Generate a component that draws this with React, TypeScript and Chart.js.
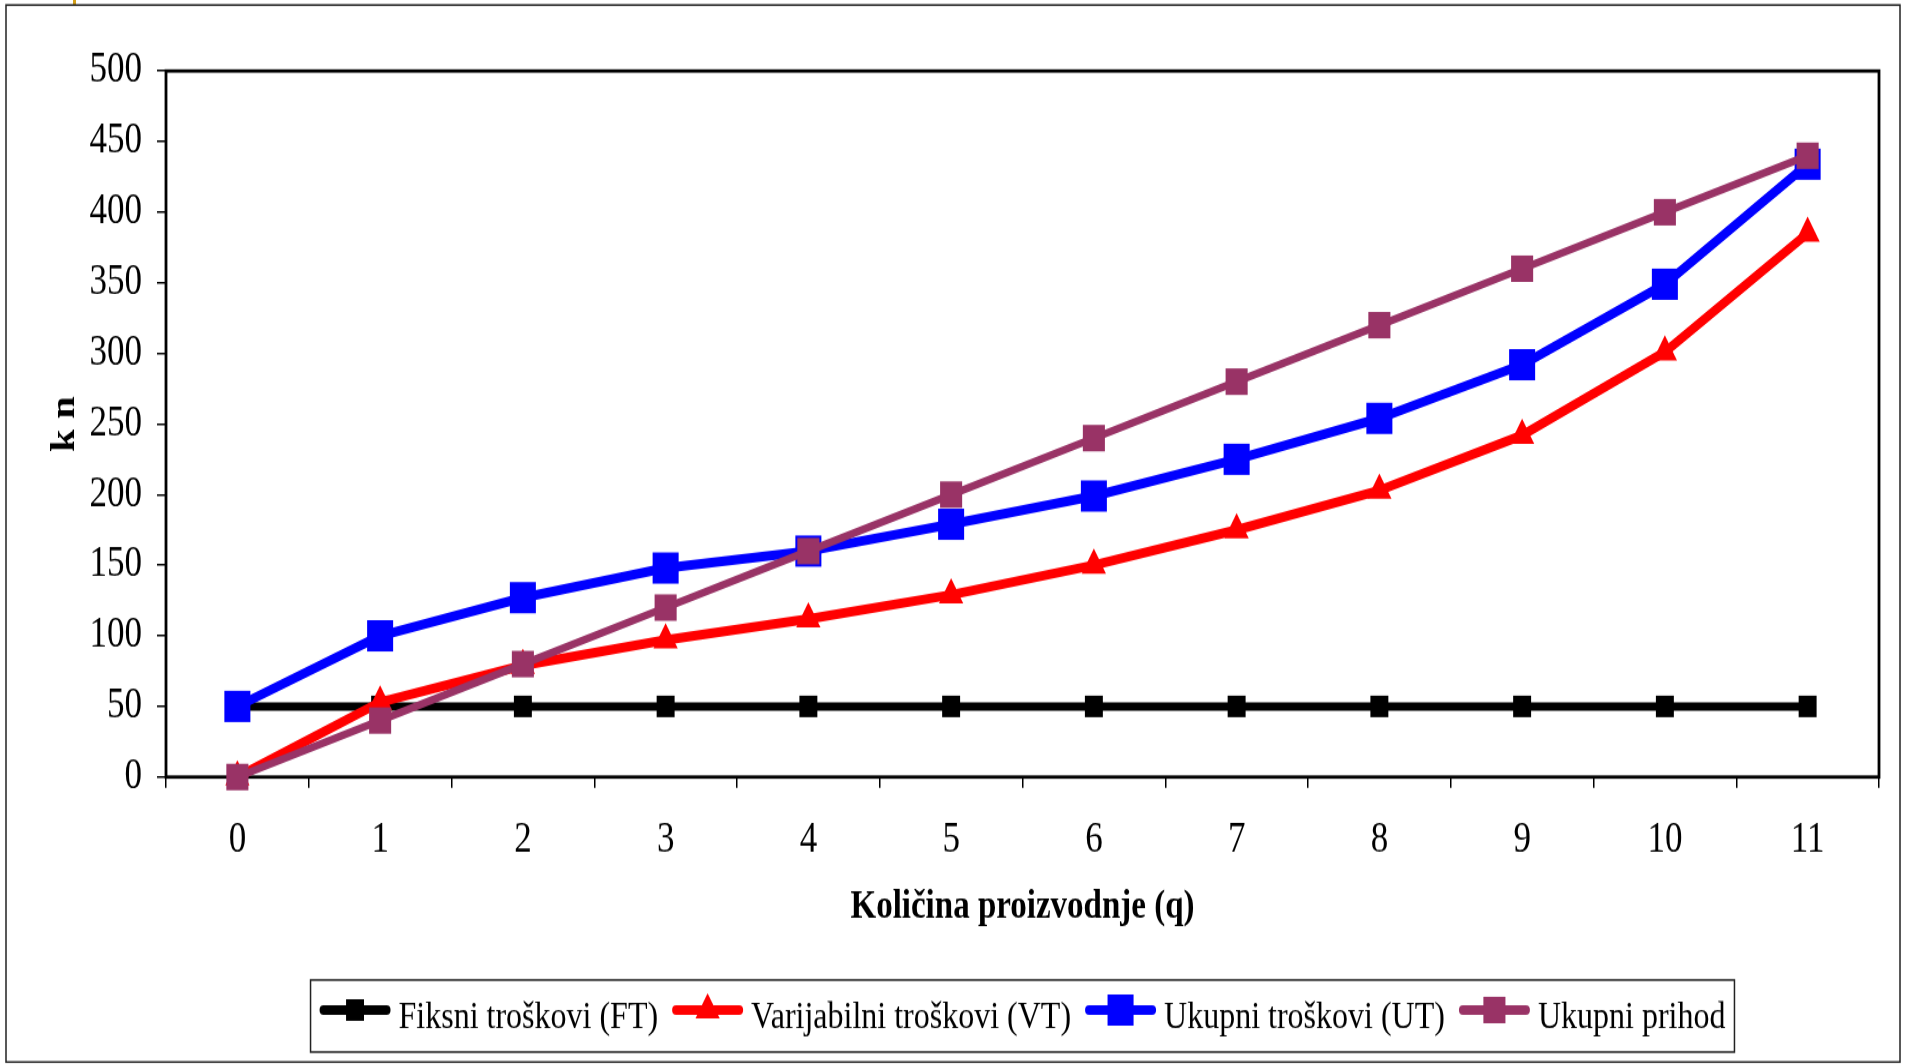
import React, { useEffect, useRef } from "react";
import { Chart, registerables } from "chart.js";

Chart.register(...registerables);

// ---------- data ----------
const quantities = ["0", "1", "2", "3", "4", "5", "6", "7", "8", "9", "10", "11"];
const fixedCosts = [50, 50, 50, 50, 50, 50, 50, 50, 50, 50, 50, 50];
const variableCosts = [0, 53, 79, 97, 112, 129, 150, 175, 203, 242, 301, 385];
const totalCosts = [50, 100, 127, 148, 160, 179, 199, 225, 254, 292, 349, 434];
const totalRevenue = [0, 40, 80, 120, 160, 200, 240, 280, 320, 360, 400, 440];
const seriesLabels = [
  "Fiksni troškovi (FT)",
  "Varijabilni troškovi (VT)",
  "Ukupni troškovi (UT)",
  "Ukupni prihod",
];
const yMin = 0;
const yMax = 500;
const yStep = 50;
const xTitle = "Količina proizvodnje (q)";
const yTitle = "k n";

// ---------- layout ----------
const W = 1910;
const H_OUT = 1064;
const H = 887;
const S = H_OUT / H;
const FONT = '"Liberation Serif", "Times New Roman", Times, serif';
const PLOT_LEFT = 166;
const PLOT_RIGHT = 1879;
const PLOT_TOP = 71 / S;
const PLOT_BOTTOM = 777 / S;

const frameUnderlay = {
  id: "frameUnderlay",
  beforeDraw(chart: any) {
    const ctx = chart.ctx;
    ctx.save();
    ctx.fillStyle = "#ffffff";
    ctx.fillRect(0, 0, chart.width, chart.height);
    ctx.fillStyle = "#D4A017";
    ctx.fillRect(73, 0, 3, 4);
    ctx.strokeStyle = "#222";
    ctx.lineWidth = 1.5;
    ctx.strokeRect(6, 5 / S, 1894, 1057 / S);
    ctx.restore();
  },
  beforeDatasetsDraw(chart: any) {
    const { ctx, chartArea } = chart;
    ctx.save();
    ctx.strokeStyle = "#000";
    ctx.lineWidth = 2.8;
    ctx.strokeRect(chartArea.left, chartArea.top, chartArea.right - chartArea.left, chartArea.bottom - chartArea.top);
    ctx.restore();
  },
};

function drawMarker(ctx: CanvasRenderingContext2D, style: string, r: number, x: number, y: number) {
  ctx.beginPath();
  if (style === "triangle") {
    ctx.moveTo(x, y - r);
    ctx.lineTo(x + 0.866 * r, y + 0.5 * r);
    ctx.lineTo(x - 0.866 * r, y + 0.5 * r);
    ctx.closePath();
  } else {
    const s = Math.SQRT1_2 * r;
    ctx.rect(x - s, y - s, 2 * s, 2 * s);
  }
  ctx.fill();
}

const customLegend = {
  id: "customLegend",
  afterDraw(chart: any) {
    const ctx: CanvasRenderingContext2D = chart.ctx;
    const ca = chart.chartArea;
    ctx.save();
    ctx.font = `32px ${FONT}`;
    const lineLen = 71;
    const gapLine = 8;
    const gapText = 14;
    const padX = 9;
    const items = chart.data.datasets.map((ds: any) => ({ ds, w: ctx.measureText(ds.label).width }));
    let total = padX * 2 + gapText * (items.length - 1);
    items.forEach((it: any) => (total += lineLen + gapLine + it.w));
    const cx = (ca.left + ca.right) / 2;
    const boxL = cx - total / 2;
    const boxT = 980 / S;
    const boxB = 1052 / S;
    ctx.strokeStyle = "#222";
    ctx.lineWidth = 1.5;
    ctx.strokeRect(boxL, boxT, total, boxB - boxT);
    const lineY = 1010 / S;
    const textY = 1028 / S;
    let x = boxL + padX;
    items.forEach((it: any) => {
      const ds = it.ds;
      ctx.strokeStyle = ds.borderColor;
      ctx.fillStyle = ds.borderColor;
      ctx.lineWidth = 8;
      ctx.lineCap = "round";
      ctx.beginPath();
      ctx.moveTo(x + 4, lineY);
      ctx.lineTo(x + lineLen - 4, lineY);
      ctx.stroke();
      drawMarker(ctx, ds.pointStyle, ds.pointRadius, x + lineLen / 2, lineY);
      x += lineLen + gapLine;
      ctx.fillStyle = "#000";
      ctx.textBaseline = "alphabetic";
      ctx.textAlign = "left";
      ctx.fillText(ds.label, x, textY);
      x += it.w + gapText;
    });
    ctx.restore();
  },
};

export default function App() {
  const ref = useRef<HTMLCanvasElement | null>(null);
  useEffect(() => {
    if (!ref.current) return;
    const mk = (label: string, data: number[], color: string, style: string, r: number, bw: number, order: number) => ({
      label,
      data,
      borderColor: color,
      backgroundColor: color,
      pointBackgroundColor: color,
      pointBorderWidth: 0,
      pointStyle: style,
      pointRadius: r,
      pointHoverRadius: r,
      borderWidth: bw,
      borderJoinStyle: "round",
      borderCapStyle: "round",
      tension: 0,
      clip: false,
      order,
    });
    const chart = new Chart(ref.current, {
      type: "line",
      data: {
        labels: quantities,
        datasets: [
          mk(seriesLabels[0], fixedCosts, "#000000", "rect", 12.7, 7, 4),
          mk(seriesLabels[1], variableCosts, "#FF0000", "triangle", 14, 8, 3),
          mk(seriesLabels[2], totalCosts, "#0000FF", "rect", 18.4, 8, 2),
          mk(seriesLabels[3], totalRevenue, "#993366", "rect", 15.6, 6.5, 1),
        ] as any,
      },
      options: {
        animation: false,
        responsive: true,
        maintainAspectRatio: false,
        events: [],
        layout: { padding: { left: 0, right: W - PLOT_RIGHT, top: PLOT_TOP, bottom: 0 } },
        plugins: { legend: { display: false }, tooltip: { enabled: false } },
        scales: {
          x: {
            type: "category",
            offset: true,
            grid: {
              display: true,
              drawOnChartArea: false,
              drawTicks: true,
              tickLength: 9,
              offset: true,
              color: "#000",
              tickColor: "#000",
              lineWidth: 1.5,
              tickWidth: 1.5,
            },
            border: { display: false },
            ticks: {
              color: "#000",
              font: { family: FONT, size: 35 },
              padding: 23,
              maxRotation: 0,
              autoSkip: false,
            },
            title: {
              display: true,
              text: xTitle,
              color: "#000",
              font: { family: FONT, size: 33, weight: "bold" },
              padding: { top: 0, bottom: 111 },
            },
            afterFit: (s: any) => {
              s.height = H - PLOT_BOTTOM;
            },
          },
          y: {
            min: yMin,
            max: yMax,
            grid: {
              display: true,
              drawOnChartArea: false,
              drawTicks: true,
              tickLength: 9,
              color: "#000",
              tickColor: "#000",
              lineWidth: 1.5,
              tickWidth: 1.5,
            },
            border: { display: false },
            ticks: {
              stepSize: yStep,
              color: "#000",
              font: { family: FONT, size: 35 },
              padding: 15,
            },
            title: {
              display: true,
              text: yTitle,
              color: "#000",
              font: { family: FONT, size: 34, weight: "bold" },
              padding: { top: 45, bottom: 0 },
            },
            afterFit: (s: any) => {
              s.width = PLOT_LEFT;
            },
          },
        },
      } as any,
      plugins: [frameUnderlay, customLegend],
    });
    return () => chart.destroy();
  }, []);

  return (
    <div style={{ position: "fixed", left: 0, top: 0, width: W, height: H_OUT, overflow: "hidden", background: "#fff" }}>
      <div style={{ width: W, height: H, transform: `scaleY(${S})`, transformOrigin: "0 0" }}>
        <canvas ref={ref} />
      </div>
    </div>
  );
}
